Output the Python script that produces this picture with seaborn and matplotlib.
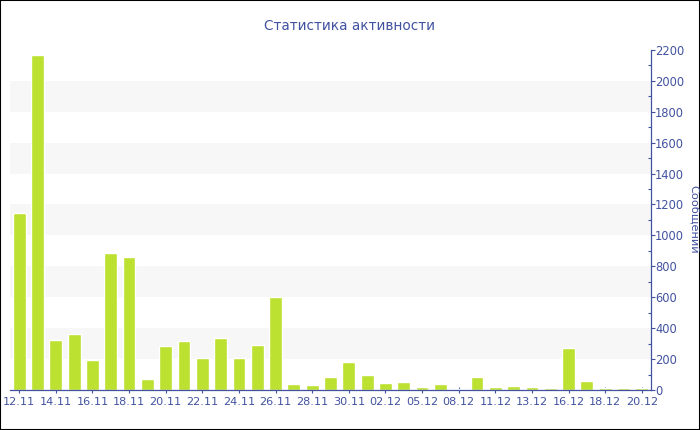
import matplotlib.pyplot as plt
from matplotlib.ticker import MultipleLocator
from matplotlib.patches import Rectangle
import seaborn as sns
import pandas as pd

dates = ['12.11', '13.11', '14.11', '15.11', '16.11', '17.11', '18.11', '19.11',
         '20.11', '21.11', '22.11', '23.11', '24.11', '25.11', '26.11', '27.11',
         '28.11', '29.11', '30.11', '01.12', '02.12', '03.12', '05.12', '06.12',
         '08.12', '09.12', '11.12', '12.12', '13.12', '14.12', '16.12', '17.12',
         '18.12', '19.12', '20.12']
messages = [1145, 2168, 325, 362, 194, 889, 859, 71, 285, 317, 209, 336, 205, 293,
            600, 41, 32, 82, 179, 97, 47, 54, 19, 39, 6, 86, 19, 26, 19, 13,
            274, 58, 13, 13, 13]

title = 'Статистика активности'
y_label = 'Сообщений'

blue = '#4152A0'
bar_color = '#BCE131'

sns.set_style('white')
plt.rcParams['font.family'] = ['DejaVu Sans']

df = pd.DataFrame({'date': dates, 'messages': messages})

fig = plt.figure(figsize=(7, 4.3), dpi=100)
ax = fig.add_axes([0.0143, 0.093, 0.9157, 0.791])

# alternating light bands behind the bars
for lo in range(200, 2200, 400):
    ax.axhspan(lo, lo + 200, color='#F7F7F7', zorder=0, lw=0)

sns.barplot(data=df, x='date', y='messages', color=bar_color, saturation=1,
            width=0.7, ax=ax, zorder=2)

ax.set_xlim(-0.5, 34.5)
ax.set_ylim(0, 2200)

ax.yaxis.tick_right()
ax.yaxis.set_major_locator(MultipleLocator(200))
ax.yaxis.set_minor_locator(MultipleLocator(100))
ax.set_ylabel('')
ax.set_xlabel('')

ax.set_xticks(range(0, len(dates), 2))
ax.set_xticklabels(dates[::2])

ax.tick_params(axis='both', colors=blue, labelsize=8.3, length=3, width=0.8,
               pad=1, direction='out')
ax.tick_params(axis='y', pad=0)
ax.tick_params(axis='y', which='minor', colors=blue, length=2, width=0.8,
               right=True, direction='in')
ax.tick_params(axis='x', bottom=True, direction='inout', length=5, pad=2.5,
               labelsize=8.1)

for side in ['top', 'left']:
    ax.spines[side].set_visible(False)
for side in ['bottom', 'right']:
    ax.spines[side].set_color(blue)
    ax.spines[side].set_linewidth(0.9)

fig.text(0.5, 0.94, title, ha='center', va='center', color=blue, fontsize=9.8)
fig.text(0.991, 0.49, y_label, ha='center', va='center', color=blue,
         fontsize=8.2, rotation=-90)

fig.patches.append(Rectangle((0, 0), 1, 1, transform=fig.transFigure,
                             fill=False, edgecolor='black', lw=1.5))

fig.savefig('out.png', dpi=100)
